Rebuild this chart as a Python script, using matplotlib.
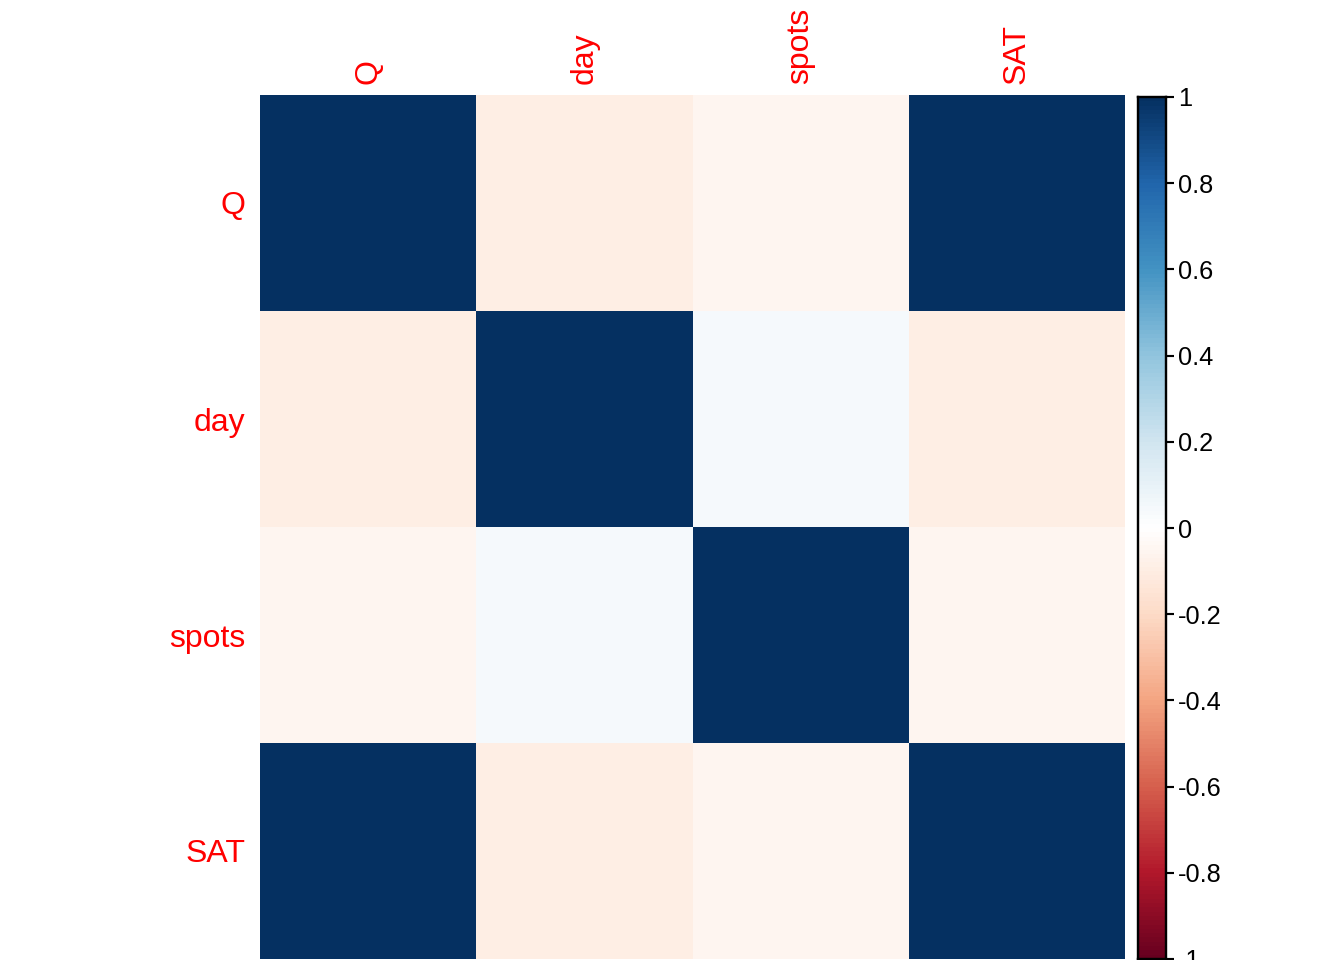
import numpy as np
import matplotlib
matplotlib.use("Agg")
import matplotlib.pyplot as plt
from matplotlib.colors import LinearSegmentedColormap, Normalize

plt.rcParams['font.family'] = ['Liberation Sans', 'DejaVu Sans']

variables = ["Q", "day", "spots", "SAT"]
corr = np.array([
    [1.00, -0.10, -0.06, 0.99],
    [-0.10, 1.00, 0.04, -0.10],
    [-0.06, 0.04, 1.00, -0.06],
    [0.99, -0.10, -0.06, 1.00],
])
cbar_ticks = [-1, -0.8, -0.6, -0.4, -0.2, 0, 0.2, 0.4, 0.6, 0.8, 1]
cbar_labels = ["-1", "-0.8", "-0.6", "-0.4", "-0.2", "0", "0.2", "0.4", "0.6", "0.8", "1"]

palette = ["#67001F", "#B2182B", "#D6604D", "#F4A582", "#FDDBC7", "#FFFFFF",
           "#D1E5F0", "#92C5DE", "#4393C3", "#2166AC", "#053061"]
cmap = LinearSegmentedColormap.from_list("corrRdBu", palette, N=200)
norm = Normalize(-1, 1)

W, H = 1344, 960
fig = plt.figure(figsize=(7, 5), dpi=192)

ax = fig.add_axes([260 / W, 1 / H, 865 / W, 864 / H])
n = len(variables)
ax.pcolormesh(np.arange(n + 1), np.arange(n + 1), corr, cmap=cmap, norm=norm,
              edgecolors='none')
ax.set_xlim(0, n)
ax.set_ylim(n, 0)
for s in ax.spines.values():
    s.set_visible(False)
ax.xaxis.tick_top()
ax.set_xticks(np.arange(n) + 0.5)
ax.set_xticklabels(variables, rotation=90, color='red', fontsize=12)
ax.set_yticks(np.arange(n) + 0.5)
ax.set_yticklabels(variables, color='red', fontsize=12)
ax.tick_params(axis='y', length=0, pad=5.5)
ax.tick_params(axis='x', length=0, pad=4)

cax = fig.add_axes([1138 / W, 1 / H, 28 / W, 862 / H])
grad = np.linspace(-1, 1, 201)
cax.pcolormesh([0, 1], grad, np.linspace(-1, 1, 200)[:, None], cmap=cmap, norm=norm)
cax.set_xlim(0, 1)
cax.set_ylim(-1, 1)
cax.set_xticks([])
cax.yaxis.tick_right()
cax.set_yticks(cbar_ticks)
cax.set_yticklabels(cbar_labels, fontsize=9.5)
cax.tick_params(axis='y', length=3, width=0.8, pad=1.5)
for s in cax.spines.values():
    s.set_linewidth(0.9)

fig.savefig("out.png", dpi=192)
